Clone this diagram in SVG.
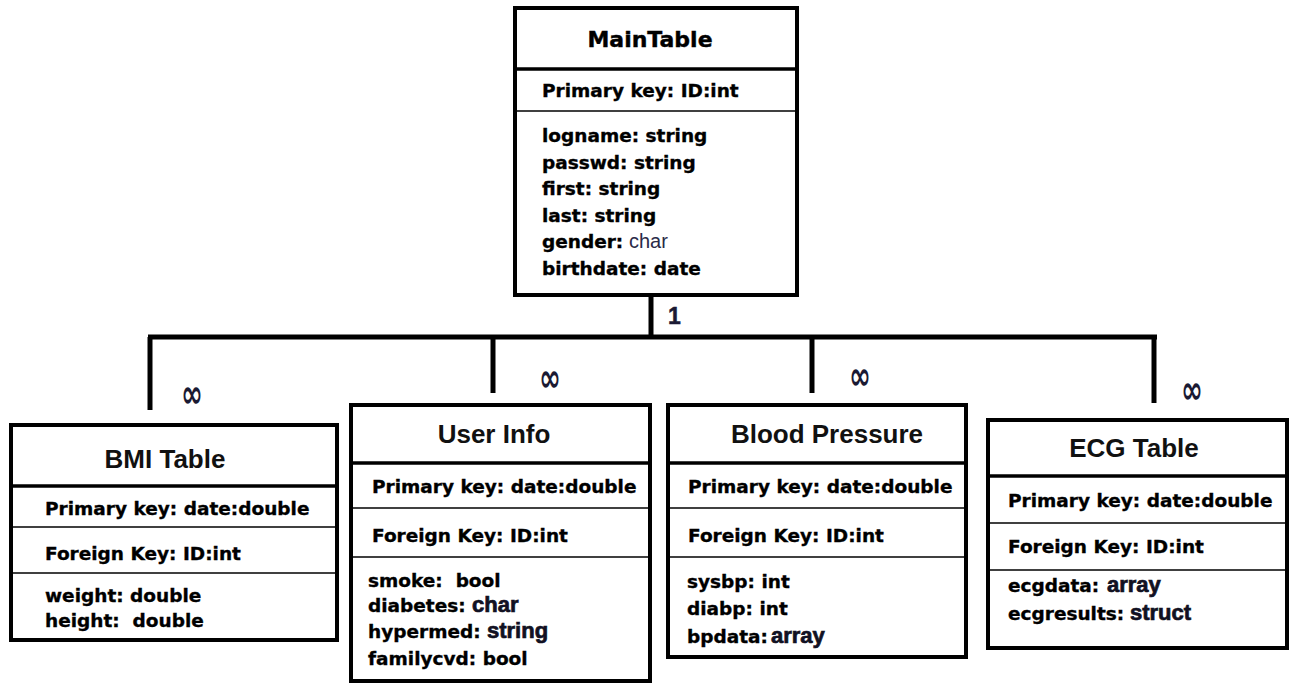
<svg xmlns="http://www.w3.org/2000/svg" width="1290" height="683" viewBox="0 0 1290 683">
  <style>
    .box { fill: #ffffff; stroke: #000000; stroke-width: 4; }
    .hdr { stroke: #000000; stroke-width: 3.5; }
    .sep { stroke: #000000; stroke-width: 1.5; }
    .title { font-family: "Liberation Sans", Arial, sans-serif; font-weight: bold; font-size: 26px; fill: #111111; text-anchor: middle; }
    .mtitle { font-family: "DejaVu Sans", sans-serif; font-weight: bold; font-size: 22px; fill: #000000; stroke: #000000; stroke-width: 0.4; text-anchor: middle; }
    .f { font-family: "DejaVu Sans", sans-serif; font-weight: bold; font-size: 18.5px; fill: #000000; stroke: #000000; stroke-width: 0.35; white-space: pre; }
    .typ { font-family: "Liberation Sans", Arial, sans-serif; font-weight: bold; font-size: 22px; fill: #111122; stroke: #111122; stroke-width: 0.7; }
    .typr { font-family: "Liberation Sans", Arial, sans-serif; font-weight: normal; font-size: 20px; fill: #2a2a48; }
    .link { fill: none; stroke: #000000; stroke-width: 5; }
    .card { font-family: "Liberation Sans", Arial, sans-serif; font-weight: bold; font-size: 23px; fill: #1a1a33; stroke: #1a1a33; stroke-width: 0.5; }
    .inf { font-family: "DejaVu Sans", sans-serif; font-weight: bold; font-size: 26px; fill: #1a1a33; text-anchor: middle; }
  </style>

  <rect width="1290" height="683" fill="#ffffff"/>

  <!-- relationship lines -->
  <g id="connectors">
    <path class="link" d="M651 295 V337"/>
    <path class="link" d="M148 337 H1157"/>
    <path class="link" d="M150 337 V410"/>
    <path class="link" d="M493 337 V393"/>
    <path class="link" d="M812 337 V393"/>
    <path class="link" d="M1154 337 V403"/>
    <text class="card" x="668" y="324">1</text>
    <text class="inf" transform="translate(192 407) scale(1 1.5)">∞</text>
    <text class="inf" transform="translate(550 391) scale(1 1.5)">∞</text>
    <text class="inf" transform="translate(860 389) scale(1 1.5)">∞</text>
    <text class="inf" transform="translate(1192 403) scale(1 1.5)">∞</text>
  </g>

  <g id="main-table">
    <rect class="box" x="515" y="8" width="282" height="287"/>
    <line class="hdr" x1="515" y1="69" x2="797" y2="69"/>
    <line class="sep" x1="515" y1="111" x2="797" y2="111"/>
    <text class="mtitle" x="650" y="47">MainTable</text>
    <text class="f" x="542" y="97">Primary key: ID:int</text>
    <text class="f" x="542" y="142">logname: string</text>
    <text class="f" x="542" y="168.5">passwd: string</text>
    <text class="f" x="542" y="195">first: string</text>
    <text class="f" x="542" y="221.5">last: string</text>
    <text class="f" x="542" y="248">gender:</text>
    <text class="typr" x="629" y="248">char</text>
    <text class="f" x="542" y="275">birthdate: date</text>
  </g>

  <g id="bmi-table">
    <rect class="box" x="11" y="425" width="326" height="215"/>
    <line class="hdr" x1="11" y1="486" x2="337" y2="486"/>
    <line class="sep" x1="11" y1="527" x2="337" y2="527"/>
    <line class="sep" x1="11" y1="573" x2="337" y2="573"/>
    <text class="title" x="165" y="468">BMI Table</text>
    <text class="f" x="45" y="515">Primary key: date:double</text>
    <text class="f" x="45" y="560">Foreign Key: ID:int</text>
    <text class="f" x="45" y="602">weight: double</text>
    <text class="f" x="45" y="627" xml:space="preserve">height:  double</text>
  </g>

  <g id="user-info">
    <rect class="box" x="351" y="405" width="299" height="276"/>
    <line class="hdr" x1="351" y1="463" x2="650" y2="463"/>
    <line class="sep" x1="351" y1="508" x2="650" y2="508"/>
    <line class="sep" x1="351" y1="557" x2="650" y2="557"/>
    <text class="title" x="494" y="443">User Info</text>
    <text class="f" x="372" y="493">Primary key: date:double</text>
    <text class="f" x="372" y="542">Foreign Key: ID:int</text>
    <text class="f" x="368" y="587" xml:space="preserve">smoke:  bool</text>
    <text class="f" x="368" y="612">diabetes:</text>
    <text class="typ" x="472" y="612" style="font-weight:700">char</text>
    <text class="f" x="368" y="638">hypermed:</text>
    <text class="typ" x="487" y="638" style="font-weight:700">string</text>
    <text class="f" x="368" y="665">familycvd: bool</text>
  </g>

  <g id="blood-pressure">
    <rect class="box" x="668" y="405" width="298" height="252"/>
    <line class="hdr" x1="668" y1="463" x2="966" y2="463"/>
    <line class="sep" x1="668" y1="508" x2="966" y2="508"/>
    <line class="sep" x1="668" y1="557" x2="966" y2="557"/>
    <text class="title" x="827" y="443">Blood Pressure</text>
    <text class="f" x="688" y="493">Primary key: date:double</text>
    <text class="f" x="688" y="542">Foreign Key: ID:int</text>
    <text class="f" x="687" y="588">sysbp: int</text>
    <text class="f" x="687" y="615">diabp: int</text>
    <text class="f" x="687" y="643">bpdata:</text>
    <text class="typ" x="771" y="643" style="font-weight:700">array</text>
  </g>

  <g id="ecg-table">
    <rect class="box" x="988" y="420" width="299" height="228"/>
    <line class="hdr" x1="988" y1="476" x2="1287" y2="476"/>
    <line class="sep" x1="988" y1="523" x2="1287" y2="523"/>
    <line class="sep" x1="988" y1="570" x2="1287" y2="570"/>
    <text class="title" x="1134" y="457">ECG Table</text>
    <text class="f" x="1008" y="507">Primary key: date:double</text>
    <text class="f" x="1008" y="553">Foreign Key: ID:int</text>
    <text class="f" x="1008" y="592">ecgdata:</text>
    <text class="typ" x="1107" y="592" style="font-weight:700">array</text>
    <text class="f" x="1008" y="620">ecgresults:</text>
    <text class="typ" x="1130" y="620" style="font-weight:700">struct</text>
  </g>
</svg>
